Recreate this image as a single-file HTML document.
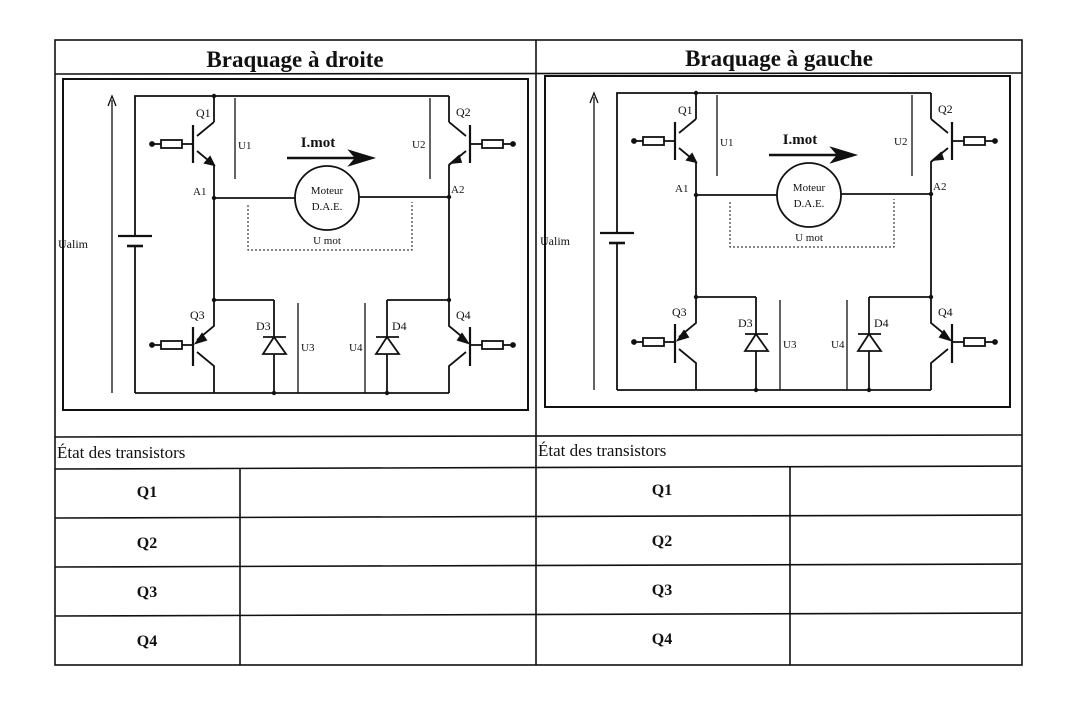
<!DOCTYPE html>
<html><head><meta charset="utf-8"><style>
html,body{margin:0;padding:0;background:#fff;}
svg{display:block;}
text{font-family:"Liberation Serif",serif;fill:#111;}
</style></head><body>
<svg width="1071" height="708" viewBox="0 0 1071 708" xmlns="http://www.w3.org/2000/svg">
<defs>
<g id="circ" stroke="#111" stroke-width="1.8" fill="none">
  <rect x="63" y="79" width="465" height="331" stroke-width="2"/>
  <polyline points="214,122 214,96 135,96 135,236"/>
  <line x1="135" y1="246" x2="135" y2="393"/>
  <line x1="214" y1="96" x2="449" y2="96"/>
  <line x1="449" y1="96" x2="449" y2="122"/>
  <line x1="135" y1="393" x2="449" y2="393"/>
  <line x1="118" y1="236" x2="152" y2="236" stroke-width="2.2"/>
  <line x1="127" y1="246" x2="143" y2="246" stroke-width="2.6"/>
  <line x1="112" y1="393" x2="112" y2="100" stroke-width="1.3"/>
  <polyline points="108,106 112,96 116,106" stroke-width="1.3"/>
  <line x1="193" y1="125" x2="193" y2="163" stroke-width="2.2"/>
  <polyline points="214,122 197,136"/>
  <polyline points="197,151 214,165 214,198"/>
  <polygon points="214,165 205,163 210,157" fill="#111"/>
  <line x1="182" y1="144" x2="193" y2="144"/>
  <rect x="161" y="140" width="21" height="8"/>
  <line x1="152" y1="144" x2="161" y2="144"/>
  <circle cx="152" cy="144" r="2" fill="#111"/>
  <line x1="470" y1="125" x2="470" y2="163" stroke-width="2.2"/>
  <polyline points="449,122 466,136"/>
  <polyline points="466,151 449,165 449,198"/>
  <polygon points="451,163 459,156 461,162" fill="#111"/>
  <line x1="470" y1="144" x2="482" y2="144"/>
  <rect x="482" y="140" width="21" height="8"/>
  <line x1="503" y1="144" x2="513" y2="144"/>
  <circle cx="513" cy="144" r="2" fill="#111"/>
  <line x1="214" y1="198" x2="295" y2="198"/>
  <line x1="359" y1="197" x2="449" y2="197"/>
  <circle cx="327" cy="198" r="32"/>
  <line x1="214" y1="198" x2="214" y2="300"/>
  <line x1="449" y1="197" x2="449" y2="300"/>
  <line x1="235" y1="98" x2="235" y2="179" stroke-width="1.3"/>
  <line x1="430" y1="98" x2="430" y2="179" stroke-width="1.3"/>
  <polyline points="248,205 248,250 412,250 412,202" stroke-width="1" stroke-dasharray="2,2"/>
  <line x1="287" y1="158" x2="362" y2="158" stroke-width="2.4"/>
  <polygon points="373,158 350,151 356,158 350,165" fill="#111"/>
  <line x1="214" y1="300" x2="274" y2="300"/>
  <line x1="274" y1="300" x2="274" y2="393"/>
  <line x1="387" y1="300" x2="449" y2="300"/>
  <line x1="387" y1="300" x2="387" y2="393"/>
  <line x1="298" y1="303" x2="298" y2="393" stroke-width="1.3"/>
  <line x1="365" y1="303" x2="365" y2="393" stroke-width="1.3"/>
  <line x1="263" y1="337" x2="286" y2="337"/>
  <polygon points="274,337 263,354 286,354" fill="#fff"/>
  <line x1="376" y1="337" x2="399" y2="337"/>
  <polygon points="387,337 376,354 399,354" fill="#fff"/>
  <line x1="193" y1="327" x2="193" y2="366" stroke-width="2.2"/>
  <polyline points="214,300 214,326 197,340"/>
  <polyline points="197,352 214,366 214,393"/>
  <polygon points="196,343 202,334 206,340" fill="#111"/>
  <line x1="182" y1="345" x2="193" y2="345"/>
  <rect x="161" y="341" width="21" height="8"/>
  <line x1="152" y1="345" x2="161" y2="345"/>
  <circle cx="152" cy="345" r="2" fill="#111"/>
  <line x1="470" y1="327" x2="470" y2="366" stroke-width="2.2"/>
  <polyline points="449,300 449,326 466,340"/>
  <polyline points="466,352 449,366 449,393"/>
  <polygon points="468,343 458,340 462,334" fill="#111"/>
  <line x1="470" y1="345" x2="482" y2="345"/>
  <rect x="482" y="341" width="21" height="8"/>
  <line x1="503" y1="345" x2="513" y2="345"/>
  <circle cx="513" cy="345" r="2" fill="#111"/>
  <g fill="#111" stroke="none">
    <circle cx="214" cy="96" r="2.2"/><circle cx="214" cy="198" r="2.2"/>
    <circle cx="449" cy="197" r="2.2"/><circle cx="214" cy="300" r="2.2"/>
    <circle cx="449" cy="300" r="2.2"/><circle cx="274" cy="393" r="2.2"/>
    <circle cx="387" cy="393" r="2.2"/>
  </g>
</g>
<g id="lbl" font-size="11">
  <text x="196" y="117" font-size="12">Q1</text>
  <text x="456" y="116" font-size="12">Q2</text>
  <text x="190" y="319" font-size="12">Q3</text>
  <text x="456" y="319" font-size="12">Q4</text>
  <text x="238" y="149">U1</text>
  <text x="412" y="148">U2</text>
  <text x="193" y="195">A1</text>
  <text x="451" y="193">A2</text>
  <text x="58" y="248" font-size="12">Ualim</text>
  <text x="318" y="147" font-size="15" font-weight="bold" text-anchor="middle">I.mot</text>
  <text x="327" y="194" text-anchor="middle">Moteur</text>
  <text x="327" y="210" text-anchor="middle">D.A.E.</text>
  <text x="327" y="244" text-anchor="middle">U mot</text>
  <text x="256" y="330" font-size="12">D3</text>
  <text x="392" y="330" font-size="12">D4</text>
  <text x="301" y="351">U3</text>
  <text x="349" y="351">U4</text>
</g>
</defs>

<g stroke="#111" stroke-width="1.6" fill="none">
  <rect x="55" y="40" width="967" height="625"/>
  <line x1="536" y1="40" x2="536" y2="665"/>
  <line x1="55" y1="74" x2="1022" y2="73"/>
  <line x1="55" y1="437" x2="1022" y2="435"/>
  <line x1="55" y1="469" x2="1022" y2="466"/>
  <line x1="55" y1="518" x2="1022" y2="515"/>
  <line x1="55" y1="567" x2="1022" y2="564"/>
  <line x1="55" y1="616" x2="1022" y2="613"/>
  <line x1="240" y1="469" x2="240" y2="665"/>
  <line x1="790" y1="466" x2="790" y2="665"/>
</g>
<text x="295" y="67" font-size="23" font-weight="bold" text-anchor="middle">Braquage à droite</text>
<text x="779" y="66" font-size="23" font-weight="bold" text-anchor="middle">Braquage à gauche</text>

<use href="#circ"/><use href="#lbl"/>
<g transform="translate(482,-3)"><use href="#circ"/><use href="#lbl"/></g>

<g font-size="17">
<text x="57" y="458">État des transistors</text>
<text x="538" y="456">État des transistors</text>
</g>
<g font-size="16" font-weight="bold" text-anchor="middle">
<text x="147" y="497">Q1</text><text x="147" y="548">Q2</text><text x="147" y="597">Q3</text><text x="147" y="646">Q4</text>
<text x="662" y="495">Q1</text><text x="662" y="546">Q2</text><text x="662" y="595">Q3</text><text x="662" y="644">Q4</text>
</g>
</svg>
</body></html>
